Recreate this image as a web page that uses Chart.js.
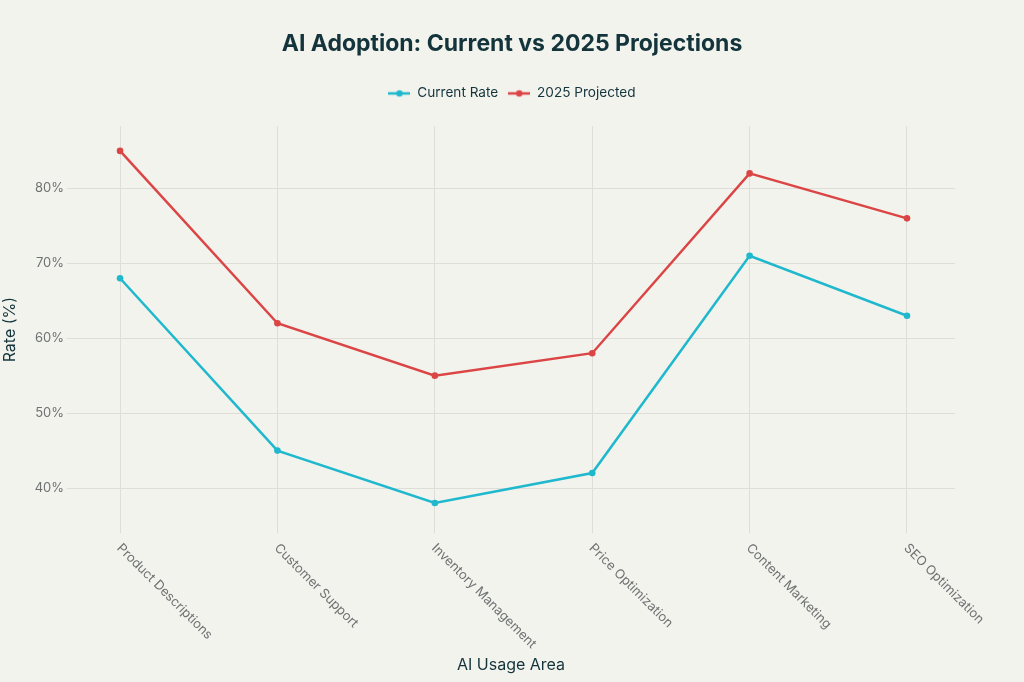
<!DOCTYPE html>
<html>
<head>
<meta charset="utf-8">
<script src="https://cdn.jsdelivr.net/npm/chart.js@4.4.0/dist/chart.umd.min.js"></script>
<style>
  html, body { margin: 0; padding: 0; background: #f3f3ee; }
  #wrap { width: 1024px; height: 682px; }
</style>
</head>
<body>
<div id="wrap"><canvas id="myChart" width="1024" height="682"></canvas></div>
<script>
const categories = ['Product Descriptions', 'Customer Support', 'Inventory Management', 'Price Optimization', 'Content Marketing', 'SEO Optimization'];
const currentRate = [68, 45, 38, 42, 71, 63];
const projected2025 = [85, 62, 55, 58, 82, 76];
const yTickValues = [40, 50, 60, 70, 80];

const cyan = '#1fb8cd';
const red = '#db4545';
const gridColor = '#dfddd7';
const tickColor = '#6f7272';
const darkText = '#13343b';
const fontFamily = 'Inter, "Open Sans", sans-serif';

// small legend marker: line with a dot in the middle
function makeMarker(color) {
    let c = document.createElement('canvas');
    c.width = 22; c.height = 10;
    let g = c.getContext('2d');
    g.strokeStyle = color;
    g.lineWidth = 2.5;
    g.beginPath(); g.moveTo(0, 5); g.lineTo(22, 5); g.stroke();
    g.fillStyle = color;
    g.beginPath(); g.arc(11, 5, 3.2, 0, Math.PI * 2); g.fill();
    return c;
}

const toPoints = (arr) => arr.map((v, i) => ({ x: i, y: v }));

const bgPlugin = {
    id: 'bg',
    beforeDraw(chart) {
        const ctx = chart.ctx;
        ctx.save();
        ctx.fillStyle = '#f3f3ee';
        ctx.fillRect(0, 0, chart.width, chart.height);
        ctx.restore();
    }
};

const legendGap = {
    id: 'legendGap',
    beforeInit(chart) {
        const fit = chart.legend.fit;
        chart.legend.fit = function () {
            fit.bind(chart.legend)();
            this.height += 16;
        };
    }
};

// x tick labels, rotated down to the right from each tick
const xLabels = {
    id: 'xLabels',
    afterDraw(chart) {
        const sc = chart.scales.x;
        const ctx = chart.ctx;
        ctx.save();
        ctx.font = '13px ' + fontFamily;
        ctx.fillStyle = tickColor;
        ctx.textAlign = 'left';
        ctx.textBaseline = 'middle';
        categories.forEach((c, i) => {
            const x = sc.getPixelForValue(i);
            ctx.save();
            ctx.translate(x - 1, sc.top + 13);
            ctx.rotate(Math.PI / 4);
            ctx.fillText(c, 0, 0);
            ctx.restore();
        });
        ctx.restore();
    }
};

const ctx = document.getElementById('myChart').getContext('2d');
new Chart(ctx, {
    type: 'line',
    data: {
        datasets: [{
            label: 'Current Rate',
            data: toPoints(currentRate),
            borderColor: cyan,
            backgroundColor: cyan,
            borderWidth: 2.5,
            pointRadius: 3.3,
            pointBorderWidth: 0,
            pointStyle: 'circle',
            tension: 0
        }, {
            label: '2025 Projected',
            data: toPoints(projected2025),
            borderColor: red,
            backgroundColor: red,
            borderWidth: 2.5,
            pointRadius: 3.3,
            pointBorderWidth: 0,
            pointStyle: 'circle',
            tension: 0
        }]
    },
    options: {
        responsive: false,
        animation: false,
        layout: { padding: 0 },
        plugins: {
            title: {
                display: true,
                text: 'AI Adoption: Current vs 2025 Projections',
                color: darkText,
                font: { family: fontFamily, size: 23, weight: 'bold' },
                padding: { top: 30, bottom: 19 }
            },
            legend: {
                display: true,
                labels: {
                    usePointStyle: true,
                    pointStyleWidth: 22,
                    color: darkText,
                    font: { family: fontFamily, size: 13.6 },
                    padding: 10,
                    generateLabels(chart) {
                        return chart.data.datasets.map((ds, i) => ({
                            text: ds.label,
                            pointStyle: makeMarker(ds.borderColor),
                            fillStyle: ds.borderColor,
                            strokeStyle: ds.borderColor,
                            fontColor: darkText,
                            lineWidth: 0,
                            datasetIndex: i
                        }));
                    }
                }
            },
            tooltip: { enabled: false }
        },
        scales: {
            x: {
                type: 'linear',
                min: -0.337,
                max: 5.305,
                afterBuildTicks(scale) {
                    scale.ticks = categories.map((c, i) => ({ value: i }));
                },
                afterFit(scale) {
                    scale.height = 682 - 533;
                },
                ticks: { display: false },
                grid: { color: gridColor, drawTicks: false },
                border: { display: false },
                title: {
                    display: true,
                    text: 'AI Usage Area',
                    color: darkText,
                    font: { family: fontFamily, size: 16 },
                    padding: { top: 0, bottom: 7 }
                }
            },
            y: {
                min: 34,
                max: 88.3,
                afterBuildTicks(scale) {
                    scale.ticks = yTickValues.map(v => ({ value: v }));
                },
                afterFit(scale) {
                    scale.width = 67;
                },
                ticks: {
                    color: tickColor,
                    font: { family: fontFamily, size: 13 },
                    padding: 3,
                    callback: (v) => v + '%'
                },
                grid: { color: gridColor, drawTicks: false },
                border: { display: false },
                title: {
                    display: true,
                    text: 'Rate (%)',
                    color: darkText,
                    font: { family: fontFamily, size: 16 },
                    padding: { top: 1, bottom: 0 }
                }
            },
            // empty right-hand spacer so the plot ends where the reference does
            yRight: {
                position: 'right',
                min: 0,
                max: 1,
                afterFit(scale) {
                    scale.width = 69;
                },
                ticks: { display: false },
                grid: { display: false },
                border: { display: false }
            }
        }
    },
    plugins: [bgPlugin, legendGap, xLabels]
});
</script>
</body>
</html>
